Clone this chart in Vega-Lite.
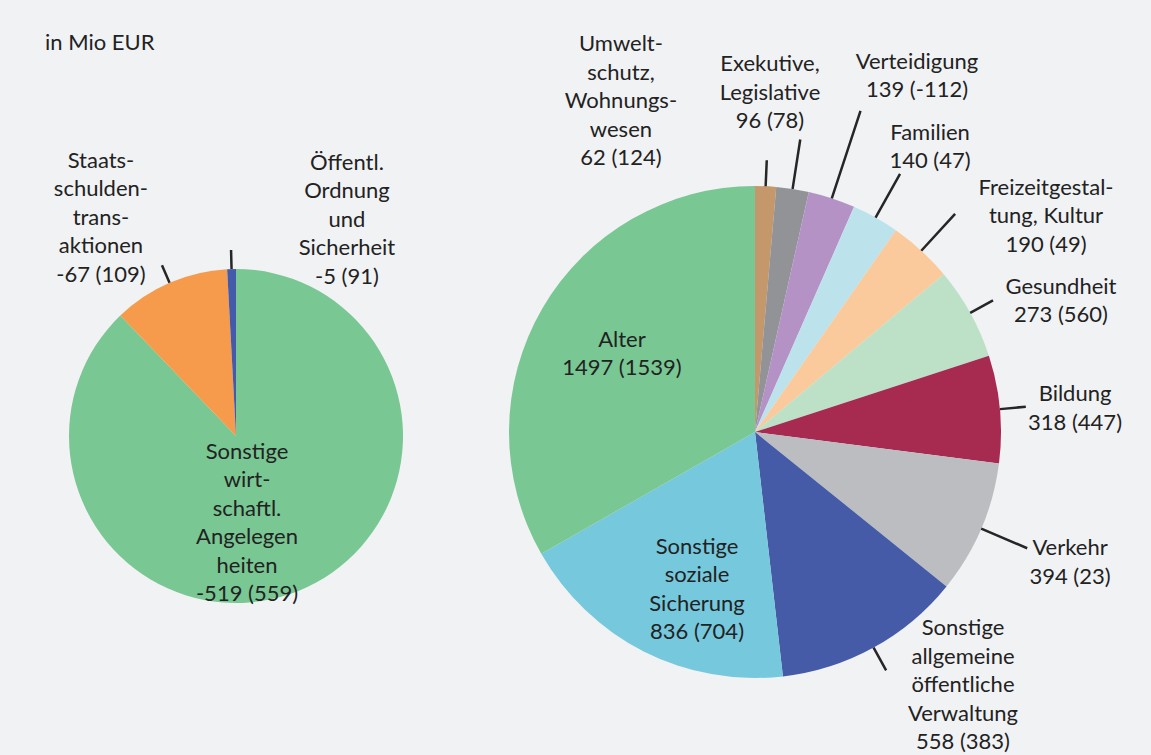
{
  "$schema": "https://vega.github.io/schema/vega-lite/v6.json",
  "background": "#F1F2F4",
  "padding": {"left": 0, "top": 32, "right": 26, "bottom": 3},
  "spacing": 0,
  "bounds": "flush",
  "resolve": {"scale": {"color": "independent", "theta": "independent"}},
  "config": {
    "view": {"stroke": null},
    "text": {"font": "Lato", "fontSize": 22, "lineHeight": 28.5, "color": "#222222", "lineBreak": "\n"},
    "title": {"font": "Lato", "fontSize": 22, "fontWeight": "normal", "color": "#222222"}
  },
  "datasets": {
    "links": [
      {"i": 1, "name": "Sonstige wirtschaftliche Angelegenheiten", "value": 519, "label": "Sonstige\nwirt-\nschaftl.\nAngelegen\nheiten\n-519 (559)"},
      {"i": 2, "name": "Staatsschuldentransaktionen", "value": 67, "label": "Staats-\nschulden-\ntrans-\naktionen\n-67 (109)"},
      {"i": 3, "name": "Öffentliche Ordnung und Sicherheit", "value": 5, "label": "Öffentl.\nOrdnung\nund\nSicherheit\n-5 (91)"}
    ],
    "rechts": [
      {"i": 1, "name": "Umweltschutz, Wohnungswesen", "value": 62, "label": "Umwelt-\nschutz,\nWohnungs-\nwesen\n62 (124)"},
      {"i": 2, "name": "Exekutive, Legislative", "value": 96, "label": "Exekutive,\nLegislative\n96 (78)"},
      {"i": 3, "name": "Verteidigung", "value": 139, "label": "Verteidigung\n139 (-112)"},
      {"i": 4, "name": "Familien", "value": 140, "label": "Familien\n140 (47)"},
      {"i": 5, "name": "Freizeitgestaltung, Kultur", "value": 190, "label": "Freizeitgestal-\ntung, Kultur\n190 (49)"},
      {"i": 6, "name": "Gesundheit", "value": 273, "label": "Gesundheit\n273 (560)"},
      {"i": 7, "name": "Bildung", "value": 318, "label": "Bildung\n318 (447)"},
      {"i": 8, "name": "Verkehr", "value": 394, "label": "Verkehr\n394 (23)"},
      {"i": 9, "name": "Sonstige allgemeine öffentliche Verwaltung", "value": 558, "label": "Sonstige\nallgemeine\nöffentliche\nVerwaltung\n558 (383)"},
      {"i": 10, "name": "Sonstige soziale Sicherung", "value": 836, "label": "Sonstige\nsoziale\nSicherung\n836 (704)"},
      {"i": 11, "name": "Alter", "value": 1497, "label": "Alter\n1497 (1539)"}
    ]
  },
  "hconcat": [
    {
      "width": 472,
      "height": 608,
      "title": {"text": "in Mio EUR", "anchor": "start", "frame": "group", "dx": 45, "offset": 77},
      "data": {"name": "links"},
      "encoding": {
        "theta": {"field": "value", "type": "quantitative", "stack": true},
        "order": {"field": "i", "type": "quantitative"},
        "detail": {"field": "name", "type": "nominal"}
      },
      "layer": [
        {
          "mark": {"type": "arc", "radius": 167},
          "encoding": {
            "color": {
              "field": "name", "type": "nominal", "legend": null,
              "scale": {
                "domain": ["Sonstige wirtschaftliche Angelegenheiten", "Staatsschuldentransaktionen", "Öffentliche Ordnung und Sicherheit"],
                "range": ["#79C793", "#F59B4B", "#445AAA"]
              }
            }
          }
        },
        {
          "mark": {"type": "arc", "radius": 186, "radius2": 167, "padAngle": 3, "fill": "transparent", "stroke": "#262626", "strokeWidth": 2.5},
          "encoding": {
            "strokeOpacity": {"condition": {"test": "datum.i === 1", "value": 0}, "value": 1}
          }
        },
        {
          "mark": {"type": "text", "radius": 90, "dx": -22.6, "dy": -67.75},
          "encoding": {"text": {"condition": {"test": "datum.i === 1", "field": "label", "type": "nominal"}, "value": ""}}
        },
        {
          "mark": {"type": "text", "radius": 167, "dx": -68.6, "dy": -121.8},
          "encoding": {"text": {"condition": {"test": "datum.i === 2", "field": "label", "type": "nominal"}, "value": ""}}
        },
        {
          "mark": {"type": "text", "radius": 167, "dx": 115.4, "dy": -106.1},
          "encoding": {"text": {"condition": {"test": "datum.i === 3", "field": "label", "type": "nominal"}, "value": ""}}
        }
      ]
    },
    {
      "width": 566,
      "height": 600,
      "data": {"name": "rechts"},
      "encoding": {
        "theta": {"field": "value", "type": "quantitative", "stack": true},
        "order": {"field": "i", "type": "quantitative"},
        "detail": {"field": "name", "type": "nominal"}
      },
      "layer": [
        {
          "mark": {"type": "arc", "radius": 246},
          "encoding": {
            "color": {
              "field": "name", "type": "nominal", "legend": null,
              "scale": {
                "domain": ["Umweltschutz, Wohnungswesen", "Exekutive, Legislative", "Verteidigung", "Familien", "Freizeitgestaltung, Kultur", "Gesundheit", "Bildung", "Verkehr", "Sonstige allgemeine öffentliche Verwaltung", "Sonstige soziale Sicherung", "Alter"],
                "range": ["#C4986B", "#929397", "#B492C6", "#BCE2EC", "#FACA9C", "#BDE1C7", "#A72A50", "#BCBDC1", "#455BA8", "#76C8DD", "#79C793"]
              }
            }
          }
        },
        {
          "mark": {"type": "arc", "radius": 272, "radius2": 246, "padAngle": 3, "fill": "transparent", "stroke": "#262626", "strokeWidth": 2.5},
          "encoding": {
            "strokeOpacity": {"condition": {"test": "datum.i === 1 || datum.i === 6 || datum.i === 7 || datum.i === 9", "value": 1}, "value": 0}
          }
        },
        {
          "mark": {"type": "arc", "radius": 296, "radius2": 246, "padAngle": 3, "fill": "transparent", "stroke": "#262626", "strokeWidth": 2.5},
          "encoding": {
            "strokeOpacity": {"condition": {"test": "datum.i === 2 || datum.i === 4 || datum.i === 5 || datum.i === 8", "value": 1}, "value": 0}
          }
        },
        {
          "mark": {"type": "arc", "radius": 338, "radius2": 246, "padAngle": 3, "fill": "transparent", "stroke": "#262626", "strokeWidth": 2.5},
          "encoding": {
            "strokeOpacity": {"condition": {"test": "datum.i === 3", "value": 1}, "value": 0}
          }
        },
        {
          "mark": {"type": "text", "radius": 246, "dx": -144.7, "dy": -142.2},
          "encoding": {"text": {"condition": {"test": "datum.i === 1", "field": "label", "type": "nominal"}, "value": ""}}
        },
        {
          "mark": {"type": "text", "radius": 246, "dx": -22.6, "dy": -124.4},
          "encoding": {"text": {"condition": {"test": "datum.i === 2", "field": "label", "type": "nominal"}, "value": ""}}
        },
        {
          "mark": {"type": "text", "radius": 246, "dx": 85.2, "dy": -136.55},
          "encoding": {"text": {"condition": {"test": "datum.i === 3", "field": "label", "type": "nominal"}, "value": ""}}
        },
        {
          "mark": {"type": "text", "radius": 246, "dx": 54.5, "dy": -84.85},
          "encoding": {"text": {"condition": {"test": "datum.i === 4", "field": "label", "type": "nominal"}, "value": ""}}
        },
        {
          "mark": {"type": "text", "radius": 246, "dx": 124.7, "dy": -63.2},
          "encoding": {"text": {"condition": {"test": "datum.i === 5", "field": "label", "type": "nominal"}, "value": ""}}
        },
        {
          "mark": {"type": "text", "radius": 246, "dx": 90.7, "dy": -26.15},
          "encoding": {"text": {"condition": {"test": "datum.i === 6", "field": "label", "type": "nominal"}, "value": ""}}
        },
        {
          "mark": {"type": "text", "radius": 246, "dx": 75.1, "dy": -14.85},
          "encoding": {"text": {"condition": {"test": "datum.i === 7", "field": "label", "type": "nominal"}, "value": ""}}
        },
        {
          "mark": {"type": "text", "radius": 246, "dx": 88.8, "dy": 19.65},
          "encoding": {"text": {"condition": {"test": "datum.i === 8", "field": "label", "type": "nominal"}, "value": ""}}
        },
        {
          "mark": {"type": "text", "radius": 246, "dx": 89.4, "dy": -19.5},
          "encoding": {"text": {"condition": {"test": "datum.i === 9", "field": "label", "type": "nominal"}, "value": ""}}
        },
        {
          "mark": {"type": "text", "radius": 150, "dx": 9.9, "dy": -19.05},
          "encoding": {"text": {"condition": {"test": "datum.i === 10", "field": "label", "type": "nominal"}, "value": ""}}
        },
        {
          "mark": {"type": "text", "radius": 150, "dx": -3.4, "dy": -16.75},
          "encoding": {"text": {"condition": {"test": "datum.i === 11", "field": "label", "type": "nominal"}, "value": ""}}
        }
      ]
    }
  ]
}
